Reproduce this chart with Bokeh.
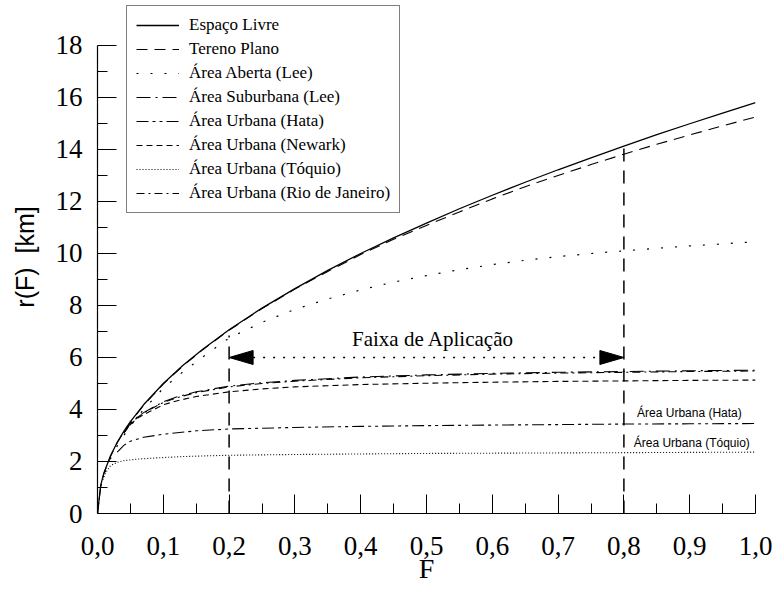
from bokeh.plotting import figure
from bokeh.models import Range1d, FixedTicker, Legend, LegendItem, Label
from bokeh.embed import file_html
from bokeh.resources import INLINE

# ---------------- data ----------------
F_up = [0.0, 0.005, 0.01, 0.02, 0.03, 0.04, 0.05, 0.07, 0.1, 0.13, 0.16, 0.2, 0.25, 0.3,
        0.35, 0.4, 0.45, 0.5, 0.55, 0.6, 0.65, 0.7, 0.75, 0.8, 0.85, 0.9, 0.95, 1.0]
espaco_livre = [0.0, 1.1, 1.58, 2.23, 2.74, 3.16, 3.53, 4.18, 5.0, 5.7, 6.32, 7.07, 7.9, 8.65,
                9.35, 10.0, 10.6, 11.17, 11.72, 12.24, 12.74, 13.22, 13.68, 14.13, 14.57, 14.99, 15.4, 15.8]
terreno_plano = [0.0, 1.08, 1.56, 2.21, 2.72, 3.14, 3.51, 4.16, 4.98, 5.68, 6.3, 7.05, 7.88, 8.63,
                 9.31, 9.96, 10.55, 11.08, 11.6, 12.1, 12.57, 13.0, 13.42, 13.82, 14.2, 14.56, 14.91, 15.25]
area_aberta = [0.0, 1.05, 1.5, 2.12, 2.6, 3.0, 3.36, 4.0, 4.82, 5.45, 6.02, 6.75, 7.35, 7.85,
               8.25, 8.6, 8.9, 9.15, 9.38, 9.57, 9.74, 9.88, 10.0, 10.1, 10.2, 10.29, 10.37, 10.45]

F_sub = [0.04, 0.05, 0.06, 0.07, 0.08, 0.1, 0.12, 0.15, 0.2, 0.25, 0.3, 0.4, 0.5, 0.6, 0.7, 0.8, 0.9, 1.0]
suburbana_lee = [3.1, 3.45, 3.7, 3.88, 4.02, 4.3, 4.48, 4.68, 4.9, 5.03, 5.12, 5.25, 5.33, 5.39, 5.43, 5.46, 5.49, 5.51]
rio_janeiro = [3.1, 3.44, 3.68, 3.86, 4.0, 4.27, 4.45, 4.65, 4.87, 5.0, 5.09, 5.22, 5.3, 5.36, 5.4, 5.43, 5.46, 5.48]
newark = [3.1, 3.42, 3.65, 3.8, 3.93, 4.18, 4.33, 4.5, 4.68, 4.79, 4.87, 4.96, 5.01, 5.05, 5.08, 5.1, 5.12, 5.13]

F_hata = [0.03, 0.04, 0.05, 0.07, 0.1, 0.15, 0.2, 0.3, 0.4, 0.5, 0.6, 0.7, 0.8, 0.9, 1.0]
hata = [2.36, 2.62, 2.78, 2.93, 3.05, 3.18, 3.25, 3.31, 3.35, 3.38, 3.4, 3.42, 3.44, 3.45, 3.46]

F_toq = [0.008, 0.012, 0.02, 0.03, 0.04, 0.06, 0.09, 0.13, 0.17, 0.2, 0.3, 0.4, 0.5, 0.6, 0.7, 0.8, 0.9, 1.0]
toquio = [1.3, 1.55, 1.85, 1.97, 2.03, 2.09, 2.14, 2.19, 2.22, 2.24, 2.27, 2.29, 2.31, 2.32, 2.33, 2.34, 2.35, 2.36]

band_F = [0.2, 0.8]          # limits of "Faixa de Aplicação"
band_top = [6.85, 14.05]     # top of the vertical dashed markers
band_arrow_r = 6.0           # level of the double arrow

x_ticks = [0.0, 0.1, 0.2, 0.3, 0.4, 0.5, 0.6, 0.7, 0.8, 0.9, 1.0]
x_tick_labels = ["0,0", "0,1", "0,2", "0,3", "0,4", "0,5", "0,6", "0,7", "0,8", "0,9", "1,0"]
y_ticks = [0, 2, 4, 6, 8, 10, 12, 14, 16, 18]

# ---------------- figure ----------------
W, H = 772, 592
ML, MR, MT, MB = 97, 17, 0, 79
Y_TOP = 19.73
p = figure(width=W, height=H, x_range=Range1d(0, 1.0), y_range=Range1d(0, Y_TOP),
           output_backend="svg", toolbar_location=None,
           min_border_left=ML, min_border_right=MR, min_border_top=MT, min_border_bottom=MB)
p.outline_line_color = None
p.xgrid.visible = False
p.ygrid.visible = False
p.background_fill_color = "white"
p.border_fill_color = "white"

serif = "Liberation Serif"
sans = "Liberation Sans"

x_minor = [(a + b) / 2 for a, b in zip(x_ticks[:-1], x_ticks[1:])]
y_minor = [(a + b) / 2 for a, b in zip(y_ticks[:-1], y_ticks[1:])]

xa = p.xaxis[0]
xa.ticker = FixedTicker(ticks=x_ticks, minor_ticks=x_minor)
xa.major_label_overrides = {t: l for t, l in zip(x_ticks, x_tick_labels)}
xa.bounds = (0, 1.0)
ya = p.yaxis[0]
ya.ticker = FixedTicker(ticks=y_ticks, minor_ticks=y_minor)
ya.bounds = (0, 18)

for ax in (xa, ya):
    ax.axis_line_color = "black"
    ax.axis_line_width = 1.2
    ax.major_tick_in = 19
    ax.major_tick_out = 0
    ax.minor_tick_in = 10
    ax.minor_tick_out = 0
    ax.major_tick_line_color = "black"
    ax.minor_tick_line_color = "black"
    ax.major_label_text_font = serif
    ax.major_label_text_color = "black"

xa.major_label_text_font_size = "27px"
xa.major_label_standoff = 23
ya.major_label_text_font_size = "27px"
ya.major_label_standoff = 15

ya.axis_label = "r(F)\u00a0\u00a0[km]"
ya.axis_label_text_font = sans
ya.axis_label_text_font_size = "25px"
ya.axis_label_text_font_style = "normal"
ya.axis_label_text_color = "black"
ya.axis_label_standoff = 14

xa.axis_label = "F"
xa.axis_label_text_font = serif
xa.axis_label_text_font_size = "28px"
xa.axis_label_text_font_style = "normal"
xa.axis_label_text_color = "black"
xa.axis_label_standoff = -5

# ---------------- curves ----------------
r_el = p.line(F_up, espaco_livre, line_color="black", line_width=1.3)
r_tp = p.line(F_up, terreno_plano, line_color="black", line_width=1.1, line_dash="11 7")
r_aa = p.line(F_up, area_aberta, line_color="black", line_width=1.2, line_dash="2 12")
r_sl = p.line(F_sub, suburbana_lee, line_color="black", line_width=1.1, line_dash="14 5 2 5")
r_ha = p.line(F_hata, hata, line_color="black", line_width=1.1, line_dash="12 4 3 4 3 4")
r_nw = p.line(F_sub, newark, line_color="black", line_width=1.1, line_dash="6 4")
r_tq = p.line(F_toq, toquio, line_color="black", line_width=1.1, line_dash="1 2")
r_rj = p.line(F_sub, rio_janeiro, line_color="black", line_width=1.1, line_dash="8 4 2 4")

# ---------------- band markers ----------------
p.segment(x0=band_F, y0=[0, 0], x1=band_F, y1=band_top,
          line_color="black", line_width=1.5, line_dash="13 9")

frame_w = W - ML - MR
frame_h = H - MT - MB
px_x = frame_w / 1.0
px_y = frame_h / Y_TOP
head_len = 24 / px_x
head_hw = 7 / px_y
xl, xr = band_F
yy = band_arrow_r
p.patches(xs=[[xl, xl + head_len, xl + head_len], [xr, xr - head_len, xr - head_len]],
          ys=[[yy, yy + head_hw, yy - head_hw], [yy, yy + head_hw, yy - head_hw]],
          fill_color="black", line_color="black")
p.line([xl + head_len, xr - head_len], [yy, yy], line_color="black", line_width=1.5, line_dash="2 8")

p.add_layout(Label(x=(xl + xr) / 2 + 0.01, y=6.7, text="Faixa de Aplicação",
                   text_font=serif, text_font_size="21px", text_align="center",
                   text_baseline="middle", text_color="black"))

p.add_layout(Label(x=0.82, y=3.85, text="Área Urbana (Hata)", text_font=sans,
                   text_font_size="12px", text_align="left", text_baseline="middle",
                   text_color="black"))
p.add_layout(Label(x=0.815, y=2.7, text="Área Urbana (Tóquio)", text_font=sans,
                   text_font_size="12px", text_align="left", text_baseline="middle",
                   text_color="black"))

# ---------------- legend ----------------
names = ["Espaço Livre", "Tereno Plano", "Área Aberta (Lee)", "Área Suburbana (Lee)",
         "Área Urbana (Hata)", "Área Urbana (Newark)", "Área Urbana (Tóquio)",
         "Área Urbana (Rio de Janeiro)"]
rends = [r_el, r_tp, r_aa, r_sl, r_ha, r_nw, r_tq, r_rj]
legend = Legend(items=[LegendItem(label=n, renderers=[r]) for n, r in zip(names, rends)])
legend.label_text_font = serif
legend.label_text_font_size = "17px"
legend.label_text_color = "black"
legend.label_height = 20
legend.glyph_height = 20
legend.glyph_width = 43
legend.label_standoff = 10
legend.spacing = 4
legend.padding = 9
legend.margin = 0
legend.border_line_color = "black"
legend.border_line_width = 1
legend.background_fill_color = "white"
legend.background_fill_alpha = 1.0
leg_h = 2 * 9 + 8 * 20 + 7 * 4
legend.location = (29, frame_h - leg_h - 7)
p.add_layout(legend, "center")

open("out.html", "w").write(file_html(p, INLINE))
